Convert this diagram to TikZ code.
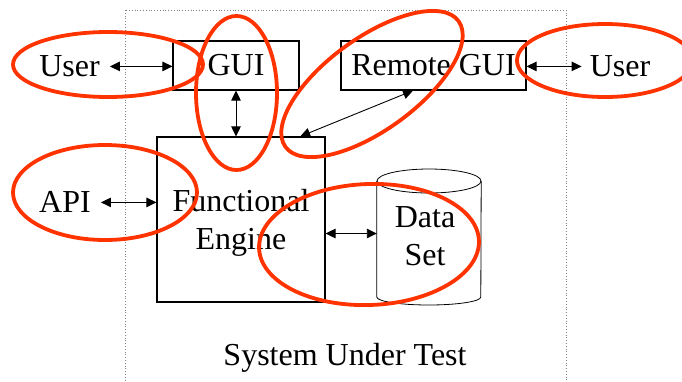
\documentclass[tikz,border=0pt]{standalone}
\usepackage{fontspec}
\setmainfont{Liberation Serif}
\usetikzlibrary{arrows.meta,calc}
\definecolor{ringred}{RGB}{255,51,0}
\begin{document}
\begin{tikzpicture}[x=1pt,y=-1pt,
  big/.style={font=\fontsize{32}{38}\selectfont},
  box/.style={big,draw=black,line width=1.1pt,inner sep=0pt},
  lbl/.style={big,inner ysep=0pt,inner xsep=10pt},
  link/.style={line width=0.9pt,{Triangle[length=10pt,width=9.5pt]}-{Triangle[length=10pt,width=9.5pt]}},
  ring/.style={draw=ringred,line width=3.8pt},
]
\useasboundingbox (0,0) rectangle (682,381);
\fill[white] (0,0) rectangle (682,381);
\begin{scope}
\clip (0,0) rectangle (682,381);

% boundary of the system under test
\draw[gray,dotted,line width=0.8pt] (125.5,10) rectangle (566,420);

% components
\node[box,minimum width=126pt,minimum height=49pt] (gui) at (236,65.5) {GUI};
\node[box,minimum width=185pt,minimum height=49pt] (rgui) at (433.5,65.5) {Remote GUI};
\node[box,minimum width=168pt,minimum height=165pt,align=center,text depth=0pt] (fe) at (241,219.5) {Functional\\Engine};

% data store drawn as a can
\node[big,inner sep=0pt,minimum width=104pt,minimum height=116pt,align=center,text depth=0pt] (data) at (429,236.5) {\hspace*{-8pt}Data\\\hspace*{-8pt}Set};
\draw[line width=0.8pt] (data.west |- 0,181) -- (data.west |- 0,297)
  arc[start angle=180,end angle=360,x radius=52pt,y radius=8pt]
  -- (data.east |- 0,181);
\draw[line width=0.8pt,fill=white] (429,181) ellipse [x radius=52pt,y radius=12pt];

% outside actors
\node[lbl] (userL) at (69.5,66.4) {User};
\node[lbl] (api) at (65,202.4) {API};
\node[lbl,inner xsep=8pt] (userR) at (620,66.4) {User};

\node[big,anchor=base] (sut) at (345,365) {System Under Test};

% interactions
\draw[link] (userL.east) -- (userL.east -| gui.west);
\draw[link] (rgui.east |- userR.west) -- (userR.west);
\draw[link] (api.east) -- (api.east -| fe.west);
\draw[link] (gui.south) -- (gui.south |- fe.north);
\draw[link] ($(fe.north east)!0.15!(fe.north west)$) -- ($(rgui.south west)!0.39!(rgui.south east)$);
\draw[link] ([yshift=3pt]fe.east |- data.west) -- ([yshift=3pt]data.west);

% highlighted interfaces
\draw[ring] (108,64.5) ellipse [x radius=95pt,y radius=32.5pt];
\draw[ring] (236.5,93) ellipse [x radius=40.5pt,y radius=77pt];
\draw[ring,rotate around={36:(372,84)}] (372,84) ellipse [x radius=107pt,y radius=46pt];
\draw[ring] (605,60.5) ellipse [x radius=88pt,y radius=36.5pt];
\draw[ring] (105,192.5) ellipse [x radius=92pt,y radius=47.5pt];
\draw[ring,rotate around={2:(369,244.5)}] (369,244.5) ellipse [x radius=110pt,y radius=60.5pt];
\end{scope}
\end{tikzpicture}
\end{document}
